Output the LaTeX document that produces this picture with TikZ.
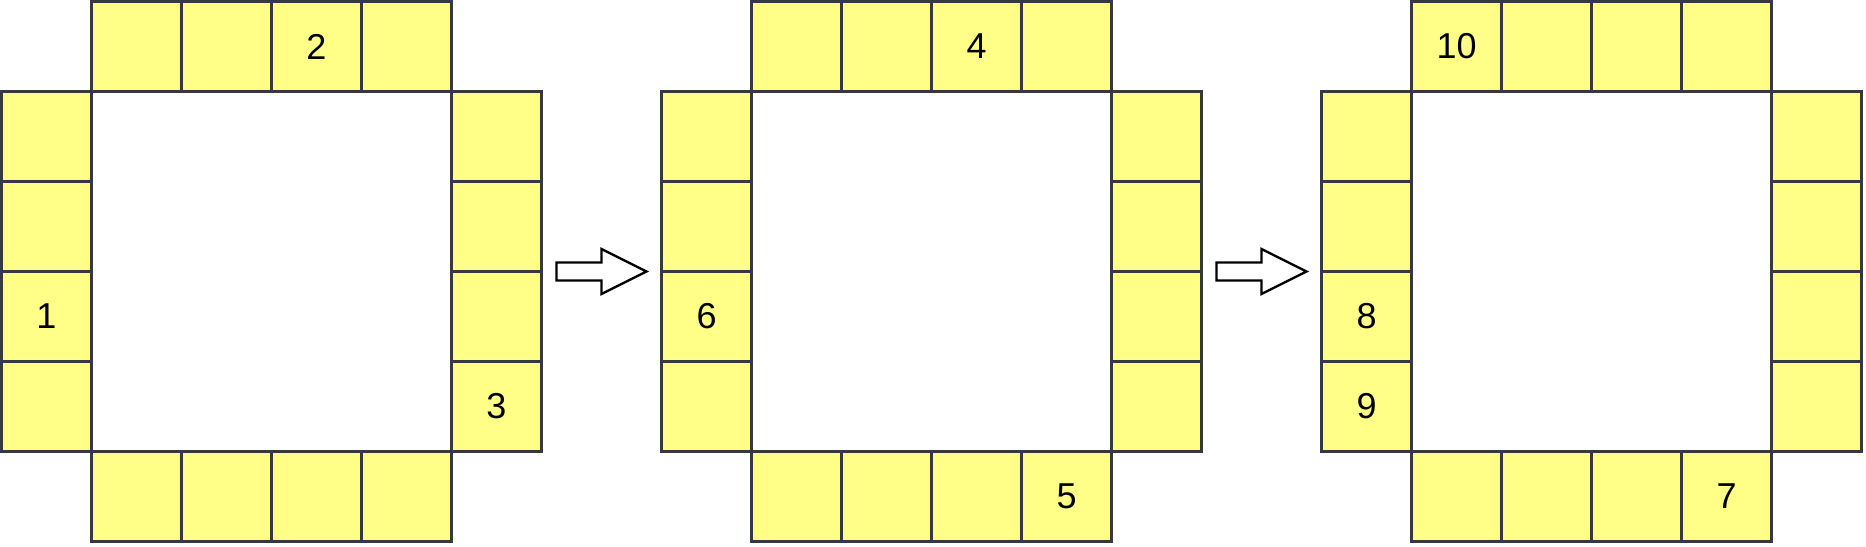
\documentclass[tikz,border=0pt]{standalone}
\usepackage{fontspec}
\setmainfont{Liberation Sans}
\usepackage{tikz}
\usetikzlibrary{calc}
\definecolor{cellfill}{HTML}{FFFF88}
\definecolor{cellline}{HTML}{36393D}

\begin{document}
\begin{tikzpicture}[x = 15pt,y = -15pt]
            % Define styles
            \tikzstyle{cell} = [draw=cellline,fill=cellfill,line width=1.5pt,shape=rectangle,minimum size=45pt,inner sep=0,font=\fontsize{18}{18}\selectfont]
            \tikzstyle{blockarrow} = [draw=black,fill=white,line width=1.15pt]
            \useasboundingbox (-0.05,-0.05) rectangle (62.15,18.15);
            % First frame
            	% Top row
            	\node (T11) at (4.5,1.5) [cell]{};
            	\node (T12) at (7.5,1.5) [cell]{};
            	\node (T13) at (10.5,1.5) [cell]{2};
            	\node (T14) at (13.5,1.5) [cell]{};
            	% Left column
            	\node (L11) at (1.5,4.5) [cell]{};
            	\node (L12) at (1.5,7.5) [cell]{};
            	\node (L13) at (1.5,10.5) [cell]{1};
            	\node (L14) at (1.5,13.5) [cell]{};
            	% Right column
            	\node (R11) at (16.5,4.5) [cell]{};
            	\node (R12) at (16.5,7.5) [cell]{};
            	\node (R13) at (16.5,10.5) [cell]{};
            	\node (R14) at (16.5,13.5) [cell]{3};
            	% Bottom row
            	\node (B11) at (4.5,16.5) [cell]{};
            	\node (B12) at (7.5,16.5) [cell]{};
            	\node (B13) at (10.5,16.5) [cell]{};
            	\node (B14) at (13.5,16.5) [cell]{};
            % Second frame
            	% Top row
            	\node (T21) at (26.5,1.5) [cell]{};
            	\node (T22) at (29.5,1.5) [cell]{};
            	\node (T23) at (32.5,1.5) [cell]{4};
            	\node (T24) at (35.5,1.5) [cell]{};
            	% Left column
            	\node (L21) at (23.5,4.5) [cell]{};
            	\node (L22) at (23.5,7.5) [cell]{};
            	\node (L23) at (23.5,10.5) [cell]{6};
            	\node (L24) at (23.5,13.5) [cell]{};
            	% Right column
            	\node (R21) at (38.5,4.5) [cell]{};
            	\node (R22) at (38.5,7.5) [cell]{};
            	\node (R23) at (38.5,10.5) [cell]{};
            	\node (R24) at (38.5,13.5) [cell]{};
            	% Bottom row
            	\node (B21) at (26.5,16.5) [cell]{};
            	\node (B22) at (29.5,16.5) [cell]{};
            	\node (B23) at (32.5,16.5) [cell]{};
            	\node (B24) at (35.5,16.5) [cell]{5};
            % Third frame
            	% Top row
            	\node (T31) at (48.5,1.5) [cell]{10};
            	\node (T32) at (51.5,1.5) [cell]{};
            	\node (T33) at (54.5,1.5) [cell]{};
            	\node (T34) at (57.5,1.5) [cell]{};
            	% Left column
            	\node (L31) at (45.5,4.5) [cell]{};
            	\node (L32) at (45.5,7.5) [cell]{};
            	\node (L33) at (45.5,10.5) [cell]{8};
            	\node (L34) at (45.5,13.5) [cell]{9};
            	% Right column
            	\node (R31) at (60.5,4.5) [cell]{};
            	\node (R32) at (60.5,7.5) [cell]{};
            	\node (R33) at (60.5,10.5) [cell]{};
            	\node (R34) at (60.5,13.5) [cell]{};
            	% Bottom row
            	\node (B31) at (48.5,16.5) [cell]{};
            	\node (B32) at (51.5,16.5) [cell]{};
            	\node (B33) at (54.5,16.5) [cell]{};
            	\node (B34) at (57.5,16.5) [cell]{7};
            % Block arrows between the frames
                \draw [blockarrow] (18.5,8.7) -- (20,8.7) -- (20,8.25) -- (21.5,9) -- (20,9.75) -- (20,9.3) -- (18.5,9.3) -- cycle;
                \draw [blockarrow] (40.5,8.7) -- (42,8.7) -- (42,8.25) -- (43.5,9) -- (42,9.75) -- (42,9.3) -- (40.5,9.3) -- cycle;
        \end{tikzpicture}
\end{document}
